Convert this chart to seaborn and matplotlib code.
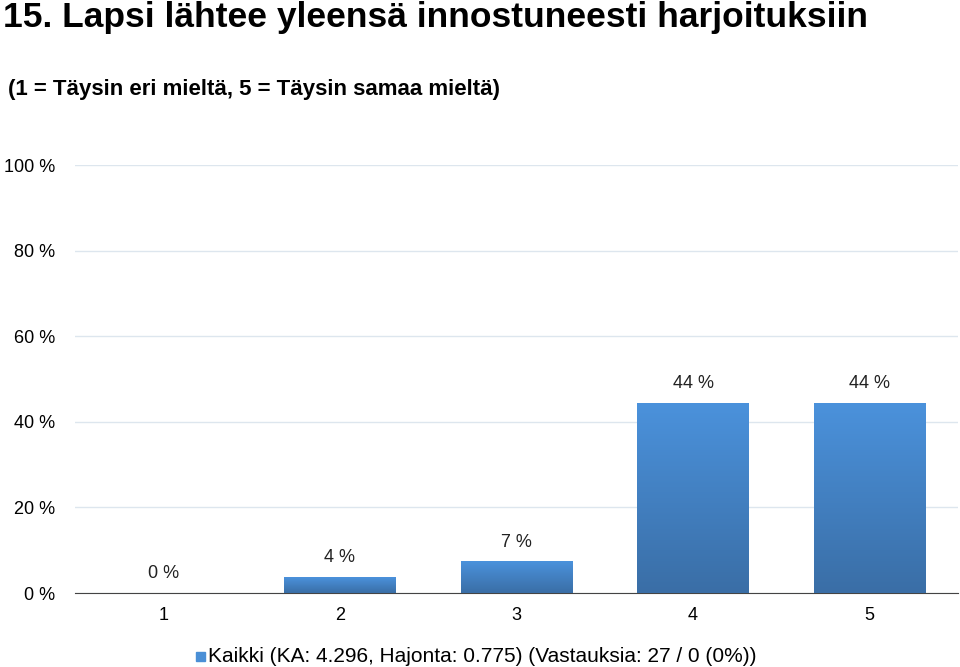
import numpy as np
import pandas as pd
import matplotlib
matplotlib.use("Agg")
import matplotlib.pyplot as plt
import seaborn as sns

categories = ["1", "2", "3", "4", "5"]
values = [0.0, 3.7, 7.4, 44.4, 44.4]
value_labels = ["0 %", "4 %", "7 %", "44 %", "44 %"]
y_ticks = [0, 20, 40, 60, 80, 100]
title = "15. Lapsi lähtee yleensä innostuneesti harjoituksiin"
subtitle = "(1 = Täysin eri mieltä, 5 = Täysin samaa mieltä)"
legend_text = "Kaikki (KA: 4.296, Hajonta: 0.775) (Vastauksia: 27 / 0 (0%))"

plt.rcParams["font.family"] = "Liberation Sans"
df = pd.DataFrame({"cat": categories, "val": values})

fig = plt.figure(figsize=(9.6, 6.67), dpi=100)
ax = fig.add_axes([75 / 960, 1 - 593 / 667, 883 / 960, 428 / 667])
sns.barplot(data=df, x="cat", y="val", color="#4a8fd6", width=0.63, ax=ax, zorder=3)

# gradient fill on bars
grad = np.linspace(0, 1, 256).reshape(-1, 1)
cmap = matplotlib.colors.LinearSegmentedColormap.from_list("g", ["#3a6ea6", "#4b92dc"])
for p in ax.patches:
    x0, y0 = p.get_x(), p.get_y()
    w, h = p.get_width(), p.get_height()
    if h <= 0:
        continue
    im = ax.imshow(grad, cmap=cmap, extent=[x0, x0 + w, y0, y0 + h], origin="lower",
                   aspect="auto", zorder=4)
    im.set_clip_path(p)

for i, (v, lab) in enumerate(zip(values, value_labels)):
    ax.text(i, v + 2.5, lab, ha="center", va="bottom", fontsize=13, color="#222222")

ax.set_xlim(-0.5, 4.5)
ax.set_ylim(0, 100)
ax.set_yticks(y_ticks)
ax.set_yticklabels([f"{t} %" for t in y_ticks], fontsize=13)
ax.tick_params(axis="x", labelsize=13, length=0, pad=10)
ax.tick_params(axis="y", length=0, pad=14)
ax.grid(axis="y", color="#dde6ee", linewidth=1, zorder=0)
ax.set_xlabel("")
ax.set_ylabel("")
for s in ["left", "right", "top"]:
    ax.spines[s].set_visible(False)
ax.spines["bottom"].set_color("#444444")

fig.text(3 / 960, 1 - 17 / 667, title, fontsize=25.5, fontweight="bold", va="center")
fig.text(8 / 960, 1 - 90 / 667, subtitle, fontsize=16, fontweight="bold", va="center")
fig.patches.append(plt.Rectangle((196 / 960, 1 - 661 / 667), 9 / 960, 9 / 667,
                                 transform=fig.transFigure, color="#4a8fd6"))
fig.text(208 / 960, 1 - 656 / 667, legend_text, fontsize=15, va="center")

fig.savefig("out.png", dpi=100)
